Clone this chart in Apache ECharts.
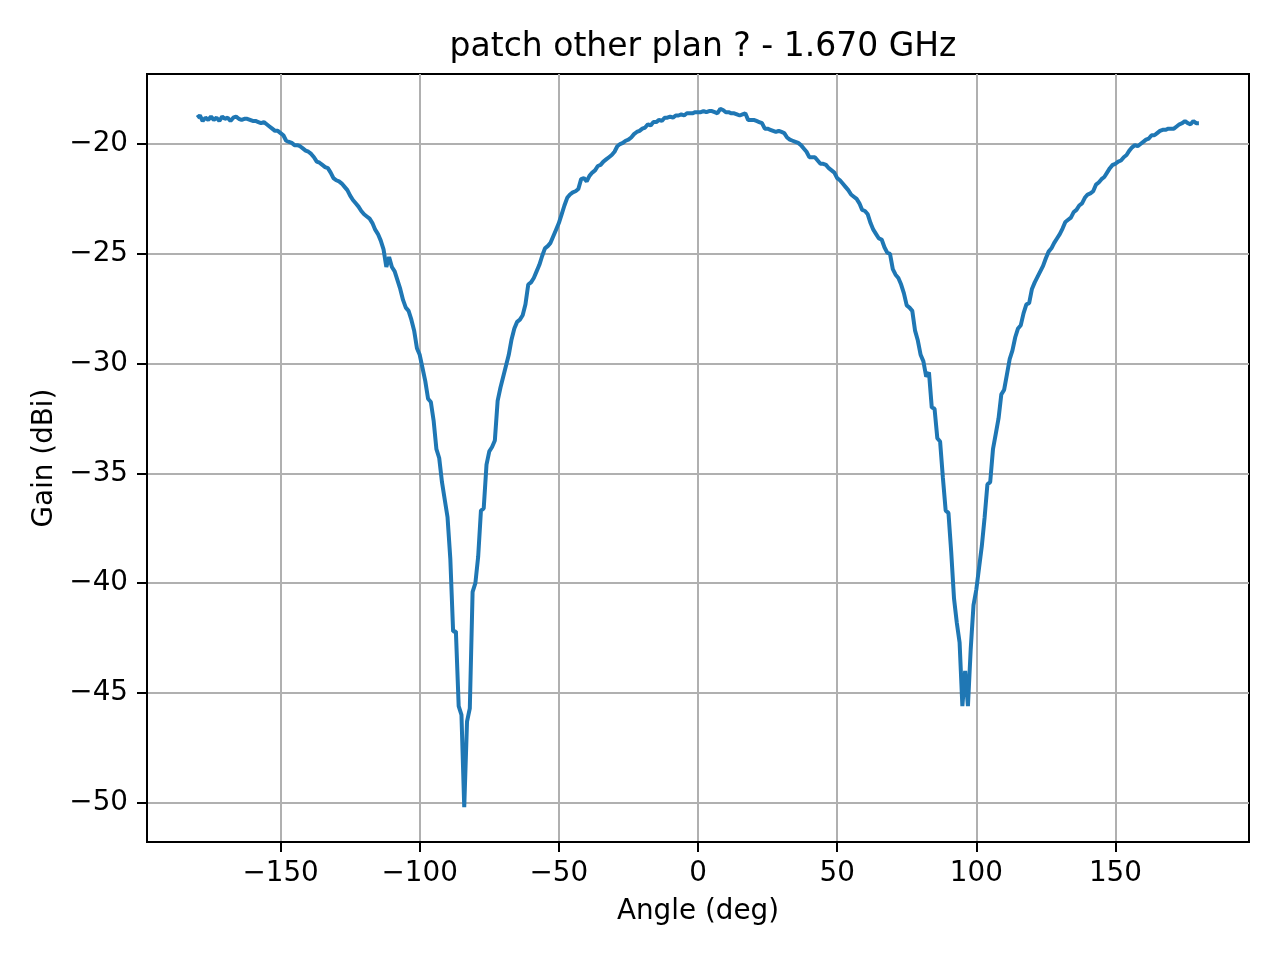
<!DOCTYPE html>
<html>
<head>
<meta charset="utf-8">
<title>patch other plan ? - 1.670 GHz</title>
<script src="https://cdn.jsdelivr.net/npm/echarts@6/dist/echarts.min.js"></script>
<style>
  html, body { margin: 0; padding: 0; background: #fff; }
  #chart { width: 1280px; height: 960px; }
</style>
</head>
<body>
<div id="chart"></div>
<script>
// measured pattern, one sample per degree starting at -180
var startAngle = -180;
var gain = [
  // -180 .. -160
  -18.8, -18.7, -18.95, -18.8, -18.9, -18.75, -18.9, -18.8, -18.95, -18.75, -18.85,
  -18.8, -18.95, -18.8, -18.75, -18.85, -18.9, -18.85, -18.85, -18.9, -18.95,
  // -159 .. -140
  -18.95, -19.0, -19.05, -19.0, -19.1, -19.2, -19.3, -19.4, -19.4, -19.5,
  -19.6, -19.85, -19.9, -19.95, -20.05, -20.05, -20.1, -20.2, -20.3, -20.35,
  // -139 .. -120
  -20.45, -20.6, -20.8, -20.85, -20.95, -21.05, -21.1, -21.3, -21.55, -21.65,
  -21.7, -21.8, -21.95, -22.1, -22.35, -22.55, -22.7, -22.85, -23.05, -23.2,
  // -119 .. -100
  -23.3, -23.4, -23.6, -23.9, -24.1, -24.4, -24.8, -25.6, -25.15, -25.6,
  -25.8, -26.2, -26.6, -27.1, -27.45, -27.6, -28.0, -28.5, -29.3, -29.6,
  // -99 .. -80
  -30.2, -30.8, -31.6, -31.75, -32.6, -33.9, -34.3, -35.4, -36.2, -37.0,
  -38.9, -42.2, -42.2, -45.6, -46.0, -50.2, -46.3, -45.7, -40.4, -40.0,
  // -79 .. -60
  -38.8, -36.7, -36.6, -34.6, -34.0, -33.8, -33.5, -31.7, -31.1, -30.6,
  -30.1, -29.6, -28.9, -28.4, -28.1, -28.0, -27.8, -27.3, -26.4, -26.3,
  // -59 .. -40
  -26.1, -25.8, -25.5, -25.1, -24.75, -24.65, -24.5, -24.2, -23.9, -23.6,
  -23.2, -22.8, -22.45, -22.3, -22.2, -22.15, -22.05, -21.6, -21.55, -21.7,
  // -39 .. -20
  -21.45, -21.3, -21.2, -21.0, -20.95, -20.8, -20.7, -20.6, -20.5, -20.35,
  -20.1, -20.0, -19.95, -19.85, -19.8, -19.7, -19.55, -19.45, -19.4, -19.3,
  // -19 .. 0
  -19.25, -19.1, -19.15, -19.0, -19.0, -18.9, -18.95, -18.8, -18.8, -18.75,
  -18.8, -18.7, -18.7, -18.65, -18.7, -18.6, -18.6, -18.6, -18.55, -18.55,
  // 1 .. 20
  -18.55, -18.5, -18.55, -18.5, -18.5, -18.55, -18.6, -18.4, -18.45, -18.55,
  -18.55, -18.6, -18.6, -18.65, -18.7, -18.65, -18.6, -18.9, -18.9, -18.9,
  // 21 .. 40
  -18.95, -19.0, -19.05, -19.3, -19.3, -19.35, -19.4, -19.45, -19.4, -19.45,
  -19.5, -19.7, -19.8, -19.85, -19.9, -19.95, -20.05, -20.2, -20.35, -20.6,
  // 41 .. 60
  -20.6, -20.6, -20.75, -20.9, -20.9, -20.95, -21.1, -21.2, -21.3, -21.55,
  -21.65, -21.8, -21.95, -22.1, -22.3, -22.4, -22.5, -22.7, -23.0, -23.05,
  // 61 .. 80
  -23.2, -23.6, -23.9, -24.1, -24.3, -24.35, -24.7, -24.95, -25.0, -25.7,
  -25.95, -26.1, -26.4, -26.8, -27.35, -27.45, -27.6, -28.5, -28.95, -29.6,
  // 81 .. 100
  -29.9, -30.6, -30.4, -32.0, -32.05, -33.4, -33.55, -35.2, -36.7, -36.8,
  -38.6, -40.7, -41.8, -42.7, -45.6, -44.0, -45.6, -43.0, -41.0, -40.3,
  // 101 .. 120
  -39.3, -38.3, -37.0, -35.5, -35.4, -33.9, -33.2, -32.5, -31.4, -31.2,
  -30.5, -29.8, -29.4, -28.8, -28.4, -28.25, -27.7, -27.3, -27.25, -26.6,
  // 121 .. 140
  -26.3, -26.05, -25.8, -25.55, -25.2, -24.9, -24.75, -24.5, -24.3, -24.1,
  -23.85, -23.55, -23.45, -23.35, -23.1, -23.0, -22.8, -22.7, -22.45, -22.3,
  // 141 .. 160
  -22.25, -22.15, -21.85, -21.75, -21.6, -21.5, -21.3, -21.1, -20.95, -20.9,
  -20.8, -20.75, -20.6, -20.5, -20.3, -20.15, -20.05, -20.1, -20.0, -19.9,
  // 161 .. 180
  -19.8, -19.75, -19.6, -19.6, -19.5, -19.4, -19.35, -19.35, -19.3, -19.3,
  -19.3, -19.2, -19.1, -19.05, -18.95, -19.05, -19.1, -18.95, -19.05, -19.05
];
var xTicks = [-150, -100, -50, 0, 50, 100, 150];
var yTicks = [-50, -45, -40, -35, -30, -25, -20];

var points = gain.map(function (g, i) { return [startAngle + i, g]; });

function minusSign(v) {
  return String(v).replace('-', '\u2212');
}

var font = 'DejaVu Sans';
var myChart = echarts.init(document.getElementById('chart'), null, { renderer: 'canvas' });

var option = {
  backgroundColor: '#fff',
  animation: false,
  title: {
    text: 'patch other plan ? - 1.670 GHz',
    left: 698,
    top: 26,
    textAlign: 'center',
    textStyle: { fontFamily: font, fontSize: 33, fontWeight: 'normal', color: '#000' }
  },
  grid: {
    left: 147, right: 31, top: 74, bottom: 118,
    show: true, borderColor: '#000', borderWidth: 2, backgroundColor: '#fff'
  },
  xAxis: {
    type: 'value',
    min: -198, max: 198,
    name: 'Angle (deg)',
    nameLocation: 'middle',
    nameGap: 56,
    nameTextStyle: { fontFamily: font, fontSize: 27.8, color: '#000' },
    axisLine: { show: true, onZero: false, lineStyle: { color: '#000', width: 2 } },
    axisTick: { show: true, length: 10, customValues: xTicks, lineStyle: { color: '#000', width: 2 } },
    axisLabel: { customValues: xTicks, margin: 18, fontFamily: font, fontSize: 27.8, color: '#000', formatter: minusSign },
    splitLine: { show: true, lineStyle: { color: '#b0b0b0', width: 2 } }
  },
  yAxis: {
    type: 'value',
    min: -51.79, max: -16.81,
    name: 'Gain (dBi)',
    nameLocation: 'middle',
    nameGap: 88,
    nameRotate: 90,
    nameTextStyle: { fontFamily: font, fontSize: 27.8, color: '#000' },
    axisLine: { show: true, onZero: false, lineStyle: { color: '#000', width: 2 } },
    axisTick: { show: true, length: 10, customValues: yTicks, lineStyle: { color: '#000', width: 2 } },
    axisLabel: { customValues: yTicks, margin: 19, fontFamily: font, fontSize: 27.8, color: '#000', formatter: minusSign },
    splitLine: { show: true, lineStyle: { color: '#b0b0b0', width: 2 } }
  },
  series: [{
    type: 'line',
    data: points,
    showSymbol: false,
    symbol: 'none',
    lineStyle: { color: '#1f77b4', width: 4 },
    z: 3
  }]
};
myChart.setOption(option);
myChart.resize();
</script>
</body>
</html>
